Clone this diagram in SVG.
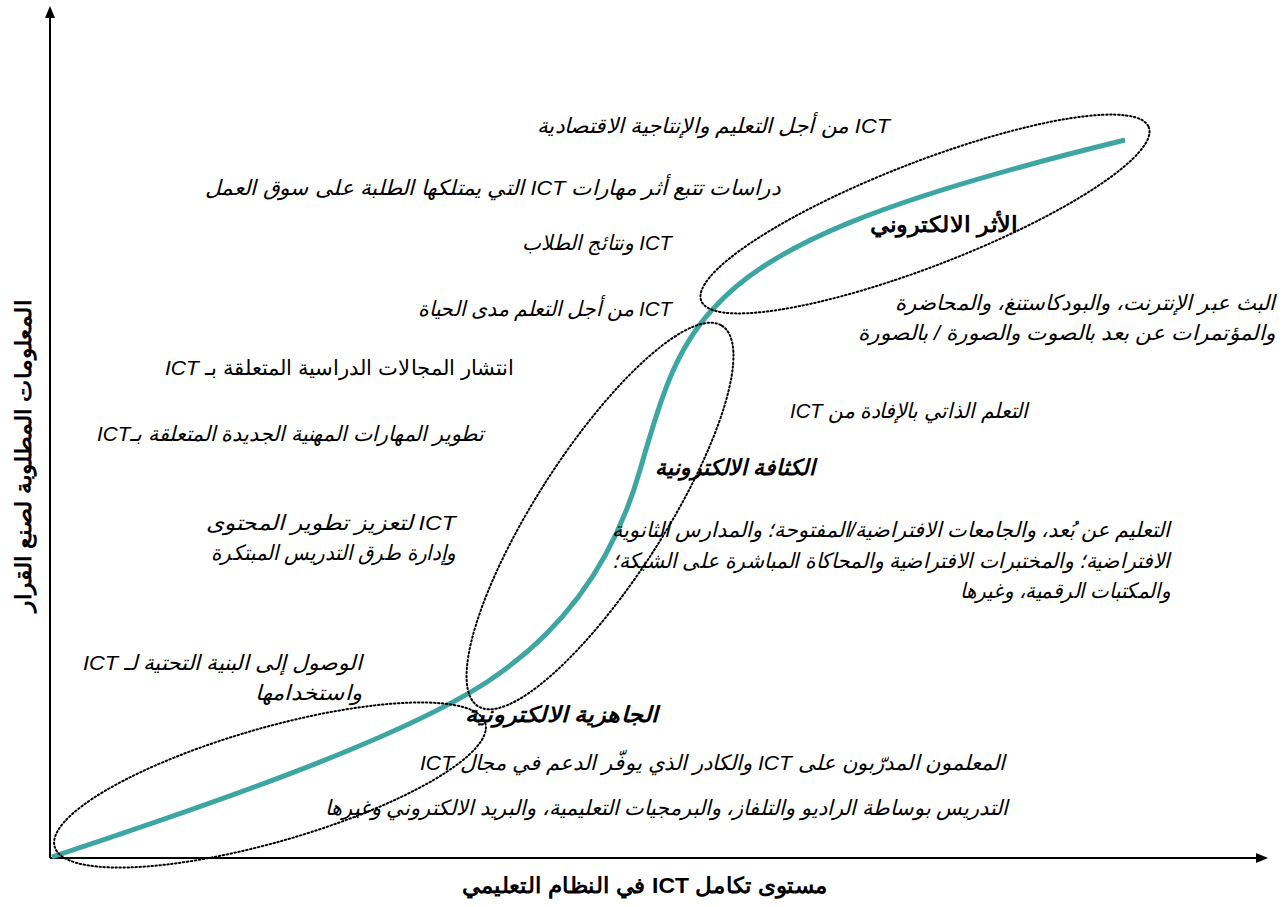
<svg xmlns="http://www.w3.org/2000/svg" width="1284" height="907" viewBox="0 0 1284 907">
<style>
.t{font-family:"Liberation Sans",Arial,sans-serif;font-size:21px;font-style:italic;fill:#000;direction:rtl;unicode-bidi:embed;text-anchor:start}
.up{font-style:normal}
.b{font-weight:bold;font-size:22px}
.ell{fill:none;stroke:#000;stroke-width:2;stroke-dasharray:1.5 2.5;stroke-linecap:round}
.axis{stroke:#000;stroke-width:2;fill:none}
</style>
<defs>
<marker id="arr" markerWidth="12" markerHeight="12" refX="10" refY="5" orient="auto" markerUnits="userSpaceOnUse">
<path d="M0,0 L12,5 L0,10 z" fill="#000"/>
</marker>
</defs>
<rect width="1284" height="907" fill="#fff"/>
<g id="connectors">
<line class="axis" x1="50" y1="858" x2="50" y2="8" marker-end="url(#arr)"/>
<line class="axis" x1="50" y1="858" x2="1266" y2="858" marker-end="url(#arr)"/>
<path id="curve" d="M52,857 C 200,808 400,740 490,680 C 580,620 620,540 640,470 C 660,400 675,350 712,310 C 770,245 880,200 1125,140" fill="none" stroke="#3ea6a2" stroke-width="5"/>
</g>
<g id="ellipse-readiness"><ellipse class="ell" cx="270" cy="785" rx="224" ry="57" transform="rotate(-16 270 785)"/></g>
<g id="ellipse-intensity"><ellipse class="ell" cx="600" cy="516" rx="226" ry="64" transform="rotate(-57.3 600 516)"/></g>
<g id="ellipse-impact"><ellipse class="ell" cx="925" cy="214" rx="240" ry="52" transform="rotate(-21.2 925 214)"/></g>
<g id="labels">
<text class="t" x="890" y="133" textLength="353" lengthAdjust="spacingAndGlyphs">ICT من أجل التعليم والإنتاجية الاقتصادية</text>
<text class="t" x="780" y="195" textLength="575" lengthAdjust="spacingAndGlyphs">دراسات تتبع أثر  مهارات ICT التي يمتلكها  الطلبة على سوق العمل</text>
<text class="t" x="672" y="250" textLength="150" lengthAdjust="spacingAndGlyphs">ICT ونتائج الطلاب</text>
<text class="t" x="672" y="316" textLength="254" lengthAdjust="spacingAndGlyphs">ICT من أجل التعلم مدى الحياة</text>
<text class="t up" x="514" y="375" textLength="349" lengthAdjust="spacingAndGlyphs">انتشار المجالات الدراسية المتعلقة بـ <tspan font-style="italic">ICT</tspan></text>
<text class="t" x="484" y="441" textLength="387" lengthAdjust="spacingAndGlyphs">تطوير المهارات المهنية الجديدة المتعلقة بـICT</text>
<text class="t" x="456" y="530" textLength="250" lengthAdjust="spacingAndGlyphs">ICT لتعزيز تطوير المحتوى</text>
<text class="t" x="456" y="560" textLength="245" lengthAdjust="spacingAndGlyphs">وإدارة طرق التدريس المبتكرة</text>
<text class="t" x="362" y="670" textLength="279" lengthAdjust="spacingAndGlyphs">الوصول إلى البنية التحتية لـ ICT</text>
<text class="t" x="362" y="700" textLength="107" lengthAdjust="spacingAndGlyphs">واستخدامها</text>
<text class="t" x="1275" y="310" textLength="380" lengthAdjust="spacingAndGlyphs">البث عبر الإنترنت، والبودكاستنغ، والمحاضرة</text>
<text class="t" x="1275" y="340" textLength="417" lengthAdjust="spacingAndGlyphs">والمؤتمرات عن بعد بالصوت والصورة / بالصورة</text>
<text class="t" x="1028" y="418" textLength="238" lengthAdjust="spacingAndGlyphs">التعلم الذاتي بالإفادة من ICT</text>
<text class="t b" x="815" y="475" textLength="160" lengthAdjust="spacingAndGlyphs">الكثافة الالكترونية</text>
<text class="t b up" x="1018" y="232" textLength="148" lengthAdjust="spacingAndGlyphs">الأثر الالكتروني</text>
<text class="t b" x="658" y="722" textLength="193" lengthAdjust="spacingAndGlyphs">الجاهزية الالكترونية</text>
<text class="t" x="1170" y="537" textLength="558" lengthAdjust="spacingAndGlyphs">التعليم عن بُعد، والجامعات الافتراضية/المفتوحة؛ والمدارس الثانوية</text>
<text class="t" x="1170" y="568" textLength="558" lengthAdjust="spacingAndGlyphs">الافتراضية؛ والمختبرات الافتراضية والمحاكاة المباشرة على الشبكة؛</text>
<text class="t" x="1170" y="598" textLength="210" lengthAdjust="spacingAndGlyphs">والمكتبات الرقمية، وغيرها</text>
<text class="t" x="1005" y="770" textLength="585" lengthAdjust="spacingAndGlyphs">المعلمون المدرّبون على ICT  والكادر الذي يوفّر الدعم في مجال ICT</text>
<text class="t" x="1008" y="815" textLength="683" lengthAdjust="spacingAndGlyphs">التدريس بوساطة الراديو والتلفاز، والبرمجيات التعليمية، والبريد الالكتروني وغيرها</text>
<text class="t b up" x="828" y="893" textLength="366" lengthAdjust="spacingAndGlyphs">مستوى تكامل ICT في النظام التعليمي</text>
<text class="t b up" transform="translate(31 456) rotate(-90)" x="156" y="0" textLength="312" lengthAdjust="spacingAndGlyphs">المعلومات المطلوبة لصنع القرار</text>
</g>
</svg>
